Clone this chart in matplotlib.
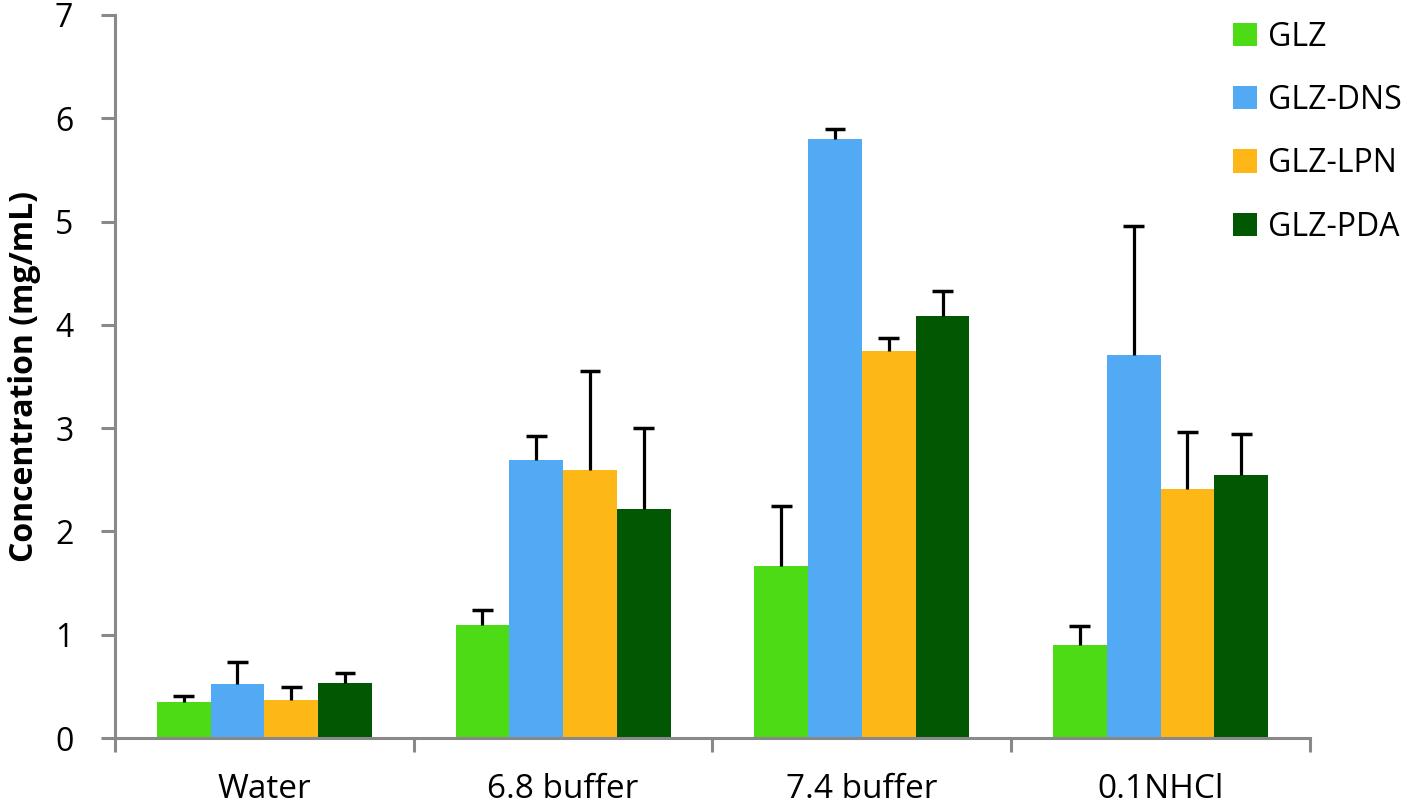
import numpy as np
import matplotlib
matplotlib.use("Agg")
import matplotlib.pyplot as plt

plt.rcParams['font.family'] = ['Open Sans', 'DejaVu Sans']

categories = ["Water", "6.8 buffer", "7.4 buffer", "0.1NHCl"]
series = ["GLZ", "GLZ-DNS", "GLZ-LPN", "GLZ-PDA"]
colors = ["#4cdb14", "#53aaf4", "#fdb716", "#025702"]

glz = [0.35, 1.09, 1.67, 0.90]
glz_dns = [0.52, 2.69, 5.80, 3.71]
glz_lpn = [0.37, 2.59, 3.75, 2.41]
glz_pda = [0.53, 2.22, 4.09, 2.55]

glz_err = [0.06, 0.15, 0.58, 0.18]
glz_dns_err = [0.22, 0.23, 0.10, 1.25]
glz_lpn_err = [0.12, 0.96, 0.12, 0.55]
glz_pda_err = [0.10, 0.78, 0.24, 0.39]

values = [glz, glz_dns, glz_lpn, glz_pda]
errors = [glz_err, glz_dns_err, glz_lpn_err, glz_pda_err]

fig = plt.figure(figsize=(14.18, 8.05), dpi=100)
ax = fig.add_axes([0.0811, 0.0832, 0.8427, 0.8982])

x = np.arange(len(categories))
w = 0.18
cap = 0.035
for i, (name, vals, errs) in enumerate(zip(series, values, errors)):
    pos = x + (i - 1.5) * w
    ax.bar(pos, vals, width=w, color=colors[i], label=name, zorder=2)
    # upper error bars only (no lower cap)
    tops = np.array(vals) + np.array(errs)
    ax.vlines(pos, vals, tops, color="black", linewidth=2.3, zorder=3)
    ax.hlines(tops, pos - cap, pos + cap, color="black", linewidth=2.5, zorder=3)

ax.set_xlim(-0.5, len(categories) - 0.5)
ax.set_ylim(0, 7)
ax.set_yticks(range(8))
ax.set_xticks(np.arange(len(categories) + 1) - 0.5)
ax.set_xticklabels([])
ax.set_xticks(x, minor=True)
ax.set_xticklabels(categories, minor=True, fontsize=24)
ax.tick_params(axis="x", which="minor", length=0, pad=25)
ax.tick_params(axis="x", which="major", length=10, width=2.2, color="#898989", direction="out")
ax.tick_params(axis="y", length=10, width=2.2, color="#898989", labelsize=23, pad=20)

for s in ["top", "right"]:
    ax.spines[s].set_visible(False)
for s in ["left", "bottom"]:
    ax.spines[s].set_color("#898989")
    ax.spines[s].set_linewidth(2.2)

ax.set_ylabel("Concentration (mg/mL)", fontsize=23, fontweight="bold", labelpad=10)

ax.legend(loc="upper left", bbox_to_anchor=(0.925, 1.01), frameon=False, fontsize=23,
          handlelength=0.75, handleheight=0.75, labelspacing=0.95, handletextpad=0.35,
          borderaxespad=0.0)

fig.savefig("out.png", dpi=100)
